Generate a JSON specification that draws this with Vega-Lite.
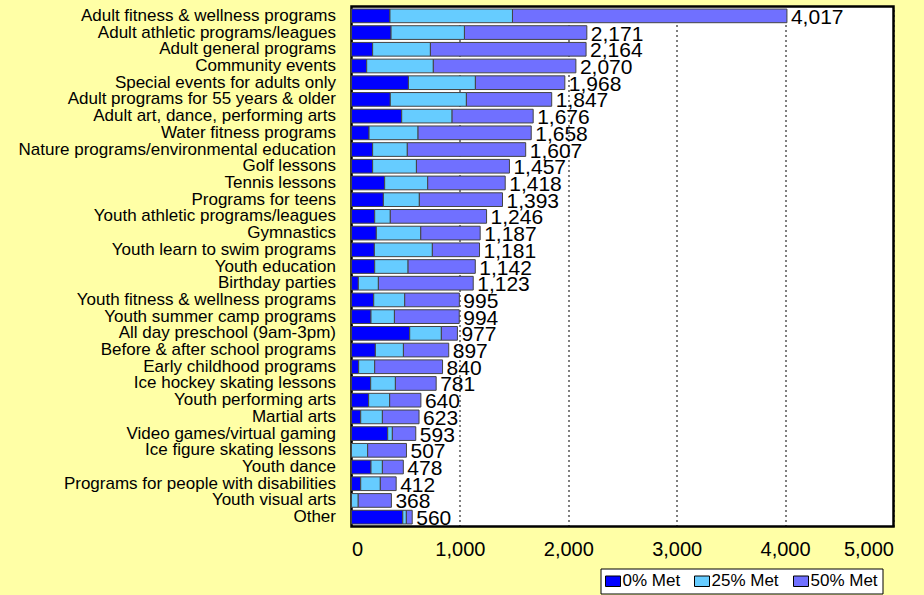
{
  "$schema": "https://vega.github.io/schema/vega-lite/v6.json",
  "width": 542,
  "height": 520,
  "autosize": "none",
  "padding": {"left": 351.5, "top": 6.5, "right": 30, "bottom": 68},
  "background": "#FFFFA6",
  "config": {
    "font": "Liberation Sans",
    "view": {"fill": "white", "stroke": "black", "strokeWidth": 2.5}
  },
  "data": {
    "values": [
      {"p": "Adult fitness & wellness programs", "m0": 355, "m25": 1130, "m50": 2532, "total": 4017},
      {"p": "Adult athletic programs/leagues", "m0": 365, "m25": 677, "m50": 1129, "total": 2171},
      {"p": "Adult general programs", "m0": 195, "m25": 533, "m50": 1436, "total": 2164},
      {"p": "Community events", "m0": 140, "m25": 615, "m50": 1315, "total": 2070},
      {"p": "Special events for adults only", "m0": 525, "m25": 618, "m50": 825, "total": 1968},
      {"p": "Adult programs for 55 years & older", "m0": 358, "m25": 702, "m50": 787, "total": 1847},
      {"p": "Adult art, dance, performing arts", "m0": 463, "m25": 465, "m50": 748, "total": 1676},
      {"p": "Water fitness programs", "m0": 162, "m25": 452, "m50": 1044, "total": 1658},
      {"p": "Nature programs/environmental education ", "m0": 195, "m25": 320, "m50": 1092, "total": 1607},
      {"p": "Golf lessons", "m0": 195, "m25": 404, "m50": 858, "total": 1457},
      {"p": "Tennis lessons", "m0": 306, "m25": 397, "m50": 715, "total": 1418},
      {"p": "Programs for teens", "m0": 294, "m25": 332, "m50": 767, "total": 1393},
      {"p": "Youth athletic programs/leagues", "m0": 214, "m25": 144, "m50": 888, "total": 1246},
      {"p": "Gymnastics", "m0": 229, "m25": 410, "m50": 548, "total": 1187},
      {"p": "Youth learn to swim programs", "m0": 211, "m25": 535, "m50": 435, "total": 1181},
      {"p": "Youth education", "m0": 214, "m25": 308, "m50": 620, "total": 1142},
      {"p": "Birthday parties", "m0": 63, "m25": 185, "m50": 875, "total": 1123},
      {"p": "Youth fitness & wellness programs", "m0": 205, "m25": 286, "m50": 504, "total": 995},
      {"p": "Youth summer camp programs", "m0": 180, "m25": 216, "m50": 598, "total": 994},
      {"p": "All day preschool (9am-3pm)", "m0": 537, "m25": 292, "m50": 148, "total": 977},
      {"p": "Before & after school programs", "m0": 220, "m25": 259, "m50": 418, "total": 897},
      {"p": "Early childhood programs", "m0": 66, "m25": 148, "m50": 626, "total": 840},
      {"p": "Ice hockey skating lessons", "m0": 177, "m25": 228, "m50": 376, "total": 781},
      {"p": "Youth performing arts", "m0": 158, "m25": 194, "m50": 288, "total": 640},
      {"p": "Martial arts", "m0": 85, "m25": 200, "m50": 338, "total": 623},
      {"p": "Video games/virtual gaming", "m0": 334, "m25": 43, "m50": 216, "total": 593},
      {"p": "Ice figure skating lessons", "m0": 0, "m25": 149, "m50": 358, "total": 507},
      {"p": "Youth dance", "m0": 180, "m25": 105, "m50": 193, "total": 478},
      {"p": "Programs for people with disabilities", "m0": 85, "m25": 181, "m50": 146, "total": 412},
      {"p": "Youth visual arts", "m0": 0, "m25": 62, "m50": 306, "total": 368},
      {"p": "Other", "m0": 473, "m25": 33, "m50": 54, "total": 560}
    ]
  },
  "encoding": {
    "y": {
      "field": "p",
      "type": "nominal",
      "sort": null,
      "scale": {"paddingInner": 0.18, "paddingOuter": 0.15},
      "axis": {
        "title": null,
        "ticks": false,
        "domain": false,
        "labelFontSize": 17,
        "labelColor": "black",
        "labelPadding": 16,
        "labelLimit": 400
      }
    }
  },
  "layer": [
    {
      "transform": [{"fold": ["m0", "m25", "m50"], "as": ["level", "value"]}],
      "mark": {"type": "bar", "stroke": "#444444", "strokeWidth": 1},
      "encoding": {
        "x": {
          "field": "value",
          "type": "quantitative",
          "stack": "zero",
          "scale": {"domain": [0, 5000], "nice": false},
          "axis": {
            "title": null,
            "values": [0, 1000, 2000, 3000, 4000, 5000],
            "format": ",d",
            "grid": true,
            "gridColor": "black",
            "gridDash": [2, 3],
            "gridWidth": 1,
            "gridOpacity": 1,
            "ticks": false,
            "domain": false,
            "labelFontSize": 20,
            "labelColor": "black",
            "labelPadding": 13
          }
        },
        "color": {
          "field": "level",
          "type": "nominal",
          "scale": {"domain": ["m0", "m25", "m50"], "range": ["#0000FF", "#66CCFF", "#7070FF"]},
          "legend": {
            "title": null,
            "orient": "none",
            "direction": "horizontal",
            "legendX": 249,
            "legendY": 562,
            "fillColor": "white",
            "strokeColor": "black",
            "padding": 4,
            "symbolType": "M-1,-0.7L1,-0.7L1,0.7L-1,0.7Z",
            "symbolSize": 225,
            "symbolStrokeColor": "black",
            "symbolStrokeWidth": 1,
            "labelFontSize": 17,
            "labelColor": "black",
            "labelExpr": "datum.label == 'm0' ? '0% Met' : datum.label == 'm25' ? '25% Met' : '50% Met'",
            "columnPadding": 12,
            "labelOffset": 1
          }
        },
        "order": {"field": "level", "sort": "ascending"}
      }
    },
    {
      "mark": {"type": "text", "align": "left", "baseline": "middle", "dx": 4, "dy": 2, "fontSize": 21, "color": "black"},
      "encoding": {
        "x": {"field": "total", "type": "quantitative"},
        "text": {"field": "total", "type": "quantitative", "format": ",d"}
      }
    }
  ]
}
